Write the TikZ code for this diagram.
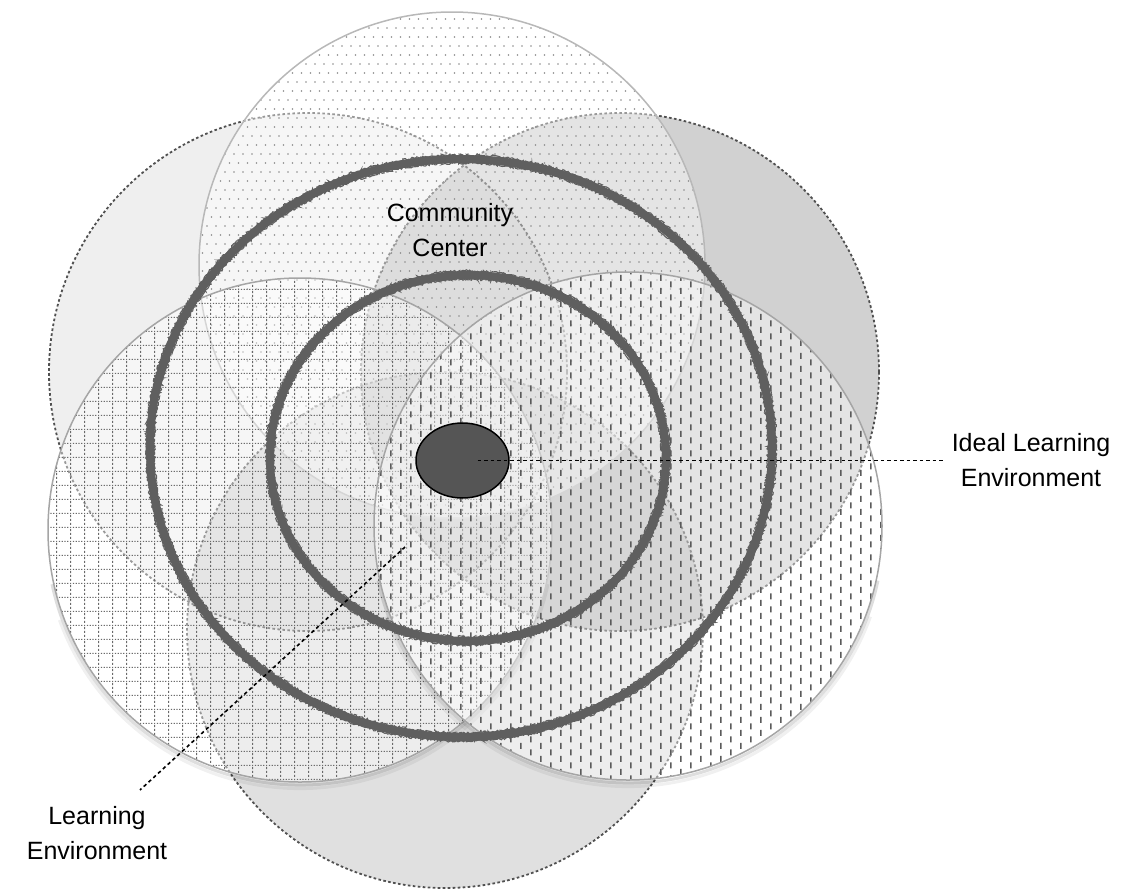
\documentclass[tikz,border=0pt]{standalone}
\usepackage{fontspec}
\setmainfont{Liberation Sans}
\usetikzlibrary{patterns,decorations.pathmorphing,shapes.geometric}

\pgfdeclarepatternformonly{topdots}{\pgfqpoint{-1pt}{-1pt}}{\pgfqpoint{10pt}{19pt}}{\pgfqpoint{9pt}{18pt}}{%
  \pgfpathcircle{\pgfqpoint{0pt}{0pt}}{0.9pt}%
  \pgfpathcircle{\pgfqpoint{4.5pt}{9pt}}{0.9pt}%
  \pgfusepath{fill}}

\pgfdeclarepatternformonly{llgrid}{\pgfqpoint{-1pt}{-1pt}}{\pgfqpoint{15pt}{15pt}}{\pgfqpoint{14pt}{14pt}}{%
  \pgfpathrectangle{\pgfqpoint{0pt}{0pt}}{\pgfqpoint{1.2pt}{1.1pt}}%
  \pgfpathrectangle{\pgfqpoint{2.8pt}{0pt}}{\pgfqpoint{1.2pt}{1.1pt}}%
  \pgfpathrectangle{\pgfqpoint{5.6pt}{0pt}}{\pgfqpoint{1.2pt}{1.1pt}}%
  \pgfpathrectangle{\pgfqpoint{8.4pt}{0pt}}{\pgfqpoint{1.2pt}{1.1pt}}%
  \pgfpathrectangle{\pgfqpoint{11.2pt}{0pt}}{\pgfqpoint{1.2pt}{1.1pt}}%
  \pgfpathrectangle{\pgfqpoint{0pt}{3pt}}{\pgfqpoint{1.1pt}{2.2pt}}%
  \pgfpathrectangle{\pgfqpoint{0pt}{7pt}}{\pgfqpoint{1.1pt}{2.2pt}}%
  \pgfpathrectangle{\pgfqpoint{0pt}{10.8pt}}{\pgfqpoint{1.1pt}{2.2pt}}%
  \pgfusepath{fill}}

\pgfdeclarepatternformonly{lrdash}{\pgfqpoint{-1pt}{-1pt}}{\pgfqpoint{21pt}{14pt}}{\pgfqpoint{20pt}{13pt}}{%
  \pgfpathrectangle{\pgfqpoint{0pt}{0pt}}{\pgfqpoint{1.6pt}{6pt}}%
  \pgfpathrectangle{\pgfqpoint{10pt}{6.5pt}}{\pgfqpoint{1.6pt}{6pt}}%
  \pgfusepath{fill}}

\definecolor{ringc}{HTML}{5F5F5F}
\definecolor{dashc}{HTML}{505050}
\definecolor{topb}{HTML}{B8B8B8}
\definecolor{solidb}{HTML}{A5A5A5}
\definecolor{dotc}{HTML}{8C8C8C}
\definecolor{gridc}{HTML}{6A6A6A}
\definecolor{dashpc}{HTML}{5A5A5A}
\definecolor{idealc}{HTML}{555555}

\newcommand\lblfont{\fontsize{25pt}{35pt}\selectfont}

\begin{document}
\begin{tikzpicture}[x=1pt,y=-1pt,
  grayc/.style={fill=black, fill opacity=#1, draw=dashc, draw opacity=1,
     line width=1.8pt, dash pattern=on 2.6pt off 2.4pt},
  veil/.style={fill=white, fill opacity=0.42},
  solidrim/.style={draw=solidb, line width=1.5pt},
  shadowarc/.style={draw=black, line width=3pt, draw opacity=#1},
  ring/.style={draw=ringc, line width=8pt},
  fuzz/.style={draw=ringc, line width=1.1pt, decorate,
     decoration={random steps, segment length=1.3pt, amplitude=1.2pt}},
  leader/.style={draw=black, line width=1.6pt, dash pattern=on 3.5pt off 3pt},
  lbl/.style={align=center, font=\lblfont, inner sep=0pt},
  idealnode/.style={ellipse, draw=black, line width=1.5pt, fill=idealc,
     minimum width=93pt, minimum height=75pt, inner sep=0pt}
]
\useasboundingbox (0,0) rectangle (1141,892);

% translucent grey circles with dashed rims
\path[grayc=0.063] (308,372) circle[radius=259];
\path[grayc=0.18]  (620,372) circle[radius=259];
\path[grayc=0.12]  (445,630) circle[radius=258];

% top circle, dotted
\path[veil] (452,265) circle[radius=253];
\fill[pattern=topdots, pattern color=dotc] (452,265) circle[radius=253];
\draw[draw=topb, line width=1.5pt] (452,265) circle[radius=253];

% lower-left circle, grid
\draw[shadowarc=0.13] (300,531.5) ++(12:253.5) arc[start angle=12, end angle=168, radius=253.5];
\draw[shadowarc=0.06] (300,532.5) ++(20:256) arc[start angle=20, end angle=160, radius=256];
\path[veil] (300,530) circle[radius=252];
\fill[pattern=llgrid, pattern color=gridc] (300,530) circle[radius=252];
\draw[solidrim] (300,530) circle[radius=252];

% lower-right circle, vertical dashes
\draw[shadowarc=0.13] (628,527.5) ++(12:255.5) arc[start angle=12, end angle=168, radius=255.5];
\draw[shadowarc=0.06] (628,528.5) ++(20:258) arc[start angle=20, end angle=160, radius=258];
\path[veil] (628,526) circle[radius=254];
\fill[pattern=lrdash, pattern color=dashpc] (628,526) circle[radius=254];
\draw[solidrim] (628,526) circle[radius=254];

% thick rough rings
\draw[ring] (461,448) ellipse[x radius=311, y radius=289];
\foreach \d in {-4,-2.5,2.5,4}{
  \pgfmathsetmacro\rxa{311+\d}\pgfmathsetmacro\rya{289+\d}
  \draw[fuzz] (461,448) ellipse[x radius=\rxa, y radius=\rya];
}
\draw[ring] (468,458) ellipse[x radius=198, y radius=183];
\foreach \d in {-4,-2.5,2.5,4}{
  \pgfmathsetmacro\rxb{198+\d}\pgfmathsetmacro\ryb{183+\d}
  \draw[fuzz] (468,458) ellipse[x radius=\rxb, y radius=\ryb];
}

% ideal learning environment
\node[idealnode] (ideal) at (462.5,460.5) {};
\node[lbl] (ideallbl) at (1031,460) {Ideal Learning\\Environment};
\draw[leader, shorten >=8pt] ([xshift=15pt]ideal.center) -- (ideal.center -| ideallbl.west);

% community center
\node[lbl] (community) at (450,230) {Community\\Center};

% learning environment
\node[lbl] (learnlbl) at (97,833) {Learning\\Environment};
\coordinate (lestart) at (405,547);
\coordinate (leend) at (140,790);
\draw[leader] (lestart) -- (leend);
\end{tikzpicture}
\end{document}
